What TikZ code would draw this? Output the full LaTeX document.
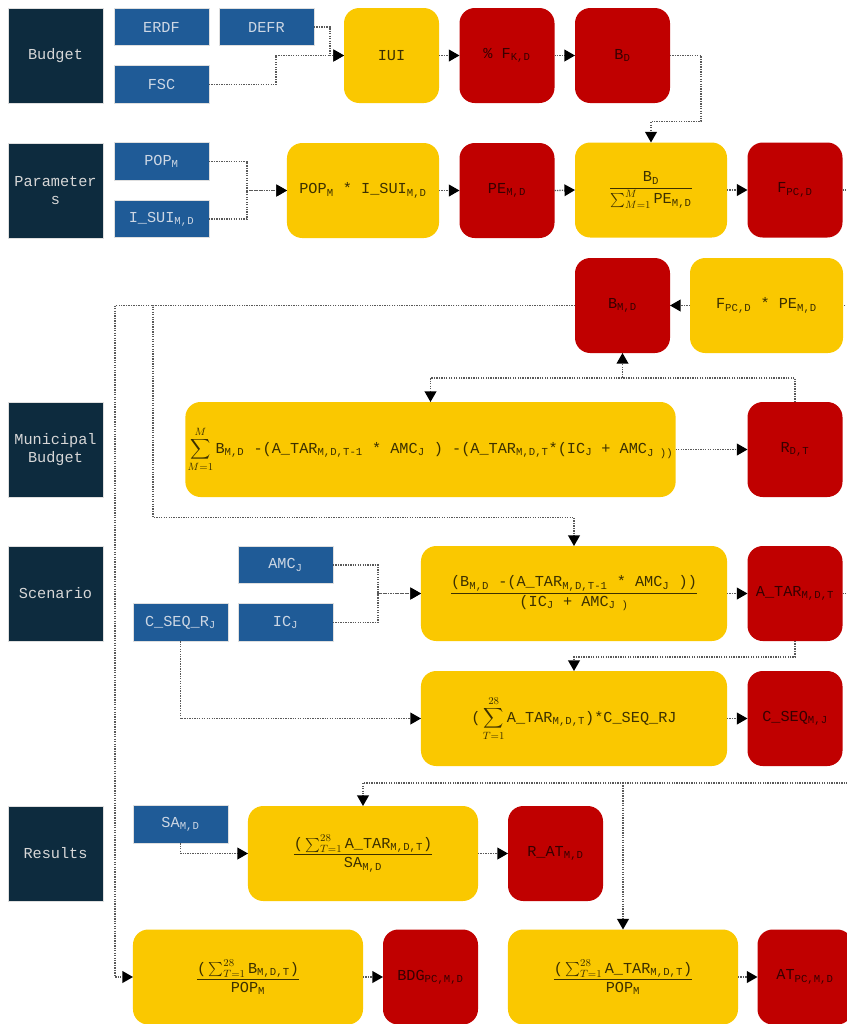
\documentclass[tikz,border=0pt]{standalone}
\usepackage{amsmath}
\usepackage{fontspec}
\setmainfont{Liberation Mono}
\usetikzlibrary{arrows.meta}

\definecolor{navy}{RGB}{13,43,62}
\definecolor{inblue}{RGB}{31,91,151}
\definecolor{calcyel}{RGB}{250,200,0}
\definecolor{resred}{RGB}{192,0,0}
\definecolor{headtext}{RGB}{215,215,215}
\definecolor{intext}{RGB}{205,215,228}
\definecolor{calctext}{RGB}{60,48,0}
\definecolor{restext}{RGB}{55,0,0}

\tikzset{
  base/.style={inner sep=2pt, outer sep=0pt, align=center, font=\fontsize{13}{15}\selectfont},
  head/.style={base, fill=navy, draw=white!75!gray, line width=0.5pt, text=headtext,
    minimum width=2.85cm, minimum height=2.85cm},
  inp/.style={base, fill=inblue, draw=white!75!gray, line width=0.5pt, text=intext,
    minimum width=2.85cm, minimum height=1.125cm},
  formula/.style={base, fill=calcyel, rounded corners=13pt, text=calctext,
    minimum height=2.85cm, minimum width=#1},
  formula/.default=2.85cm,
  res/.style={base, fill=resred, rounded corners=13pt, text=restext,
    minimum width=2.85cm, minimum height=2.85cm},
  conline/.style={densely dotted, line width=1.1pt, black!65},
  con/.style={conline, -{Triangle[length=9pt,width=10pt,black]}}
}

\begin{document}
\begin{tikzpicture}[x=0.03cm, y=-0.03cm]

    \useasboundingbox (0,0) rectangle (847,1024);
    \clip (0,0) rectangle (847,1024);

    % row headers
    \node[head] (budget) at (55.5,55.5) {Budget};
    \node[head] (params) at (55.5,190.5) {Parameter\\s};
    \node[head] (munic) at (55.5,449.5) {Municipal\\Budget};
    \node[head] (scenario) at (55.5,593.5) {Scenario};
    \node[head] (results) at (55.5,853.5) {Results};

    % inputs
    \node[inp] (erdf) at (161.5,27) {ERDF};
    \node[inp] (defr) at (266.5,27) {DEFR};
    \node[inp] (fsc) at (161.5,84.5) {FSC};
    \node[inp] (pop) at (161.5,161.5) {POP\textsubscript{M}};
    \node[inp] (isui) at (161.5,219) {I\_SUI\textsubscript{M,D}};
    \node[inp] (amc) at (285.5,565) {AMC\textsubscript{J}};
    \node[inp] (cseqr) at (180.5,622.5) {C\_SEQ\_R\textsubscript{J}};
    \node[inp] (ic) at (285.5,622.5) {IC\textsubscript{J}};
    \node[inp] (sa) at (180.5,824.5) {SA\textsubscript{M,D}};

    % formulas
    \node[formula] (iui) at (391.5,55.5) {IUI};
    \node[formula=4.56cm] (popi) at (363,190.5) {POP\textsubscript{M} * I\_SUI\textsubscript{M,D}};
    \node[formula=4.56cm] (bdsum) at (651,190) {$\displaystyle\frac{\text{B\textsubscript{D}}}{\sum_{M=1}^{M}\text{PE\textsubscript{M,D}}}$};
    \node[formula=4.59cm] (fpcpe) at (766.5,305.5) {F\textsubscript{PC,D} * PE\textsubscript{M,D}};
    \node[formula=14.37cm] (sumb) at (430.5,449.5) {$\displaystyle\sum_{M=1}^{M}\,$B\textsubscript{M,D} -(A\_TAR\textsubscript{M,D,T-1} * AMC\textsubscript{J} ) -(A\_TAR\textsubscript{M,D,T}*(IC\textsubscript{J} + AMC\textsubscript{J ))}};
    \node[formula=9.18cm] (scen) at (574,593.5) {$\displaystyle\frac{\text{(B\textsubscript{M,D} -(A\_TAR\textsubscript{M,D,T-1} * AMC\textsubscript{J} ))}}{\text{(IC\textsubscript{J} + AMC\textsubscript{J )}}}$};
    \node[formula=9.18cm] (sumc) at (574,718.5) {($\,\displaystyle\sum_{T=1}^{28}\,$A\_TAR\textsubscript{M,D,T})*C\_SEQ\_RJ};
    \node[formula=6.9cm] (sumsa) at (363,853.5) {$\displaystyle\frac{\text{(}\sum_{T=1}^{28}\text{A\_TAR\textsubscript{M,D,T})}}{\text{SA\textsubscript{M,D}}}$};
    \node[formula=6.9cm] (sumbpop) at (248,977) {$\displaystyle\frac{\text{(}\sum_{T=1}^{28}\text{B\textsubscript{M,D,T})}}{\text{POP\textsubscript{M}}}$};
    \node[formula=6.9cm] (sumapop) at (623,977) {$\displaystyle\frac{\text{(}\sum_{T=1}^{28}\text{A\_TAR\textsubscript{M,D,T})}}{\text{POP\textsubscript{M}}}$};

    % results
    \node[res] (fk) at (507,55.5) {\% F\textsubscript{K,D}};
    \node[res] (bd) at (622.5,55.5) {B\textsubscript{D}};
    \node[res] (pe) at (507,190.5) {PE\textsubscript{M,D}};
    \node[res] (fpc) at (795,190) {F\textsubscript{PC,D}};
    \node[res] (bmd) at (622.5,305.5) {B\textsubscript{M,D}};
    \node[res] (rdt) at (795,449.5) {R\textsubscript{D,T}};
    \node[res] (atar) at (795,593.5) {A\_TAR\textsubscript{M,D,T}};
    \node[res] (cseqmj) at (795,718.5) {C\_SEQ\textsubscript{M,J}};
    \node[res] (rat) at (555.5,853.5) {R\_AT\textsubscript{M,D}};
    \node[res] (bdg) at (430.5,977) {BDG\textsubscript{PC,M,D}};
    \node[res] (at) at (805,977) {AT\textsubscript{PC,M,D}};

    \coordinate (split) at (623,783);

    % connectors
    \foreach \a/\b in {iui/fk, fk/bd, popi/pe, pe/bdsum, bdsum/fpc, sumb/rdt, scen/atar,
        sumc/cseqmj, sumsa/rat, sumbpop/bdg, sumapop/at}
        \draw[con] (\a.east) -- (\b.west);
    \draw[con] (fpcpe.west) -- (bmd.east);

    \draw[con] (defr.east) -- ++(16,0) |- (iui.west);
    \draw[con] (fsc.east) -- ++(67,0) |- (iui.west);
    \draw[con] (bd.east) -| ++(31,66) -| (bdsum.north);
    \draw[con] (pop.east) -- ++(38,0) |- (popi.west);
    \draw[con] (isui.east) -- ++(38,0) |- (popi.west);
    \draw[conline] (fpc.east) -- ++(20,0) |- (fpcpe.east);

    \draw[con] (bmd.west) -| ++(-422,212) -| (scen.north);
    \draw[con] (bmd.west) -- ++(-460,0) |- (sumbpop.west);
    \draw[con] (rdt.north) -- ++(0,-24) -| (bmd.south);
    \draw[con] (rdt.north) -- ++(0,-24) -| (sumb.north);

    \draw[con] (amc.east) -- ++(45,0) |- (scen.west);
    \draw[con] (ic.east) -- ++(45,0) |- (scen.west);
    \draw[con] (atar.south) -- ++(0,16) -| (sumc.north);
    \draw[con] (cseqr.south) |- (sumc.west);
    \draw[con] (atar.east) -- ++(32,0) |- (split) -| (sumsa.north);
    \draw[con] (split) -- (sumapop.north);
    \draw[con] (sa.south) |- (sumsa.west);

\end{tikzpicture}
\end{document}
